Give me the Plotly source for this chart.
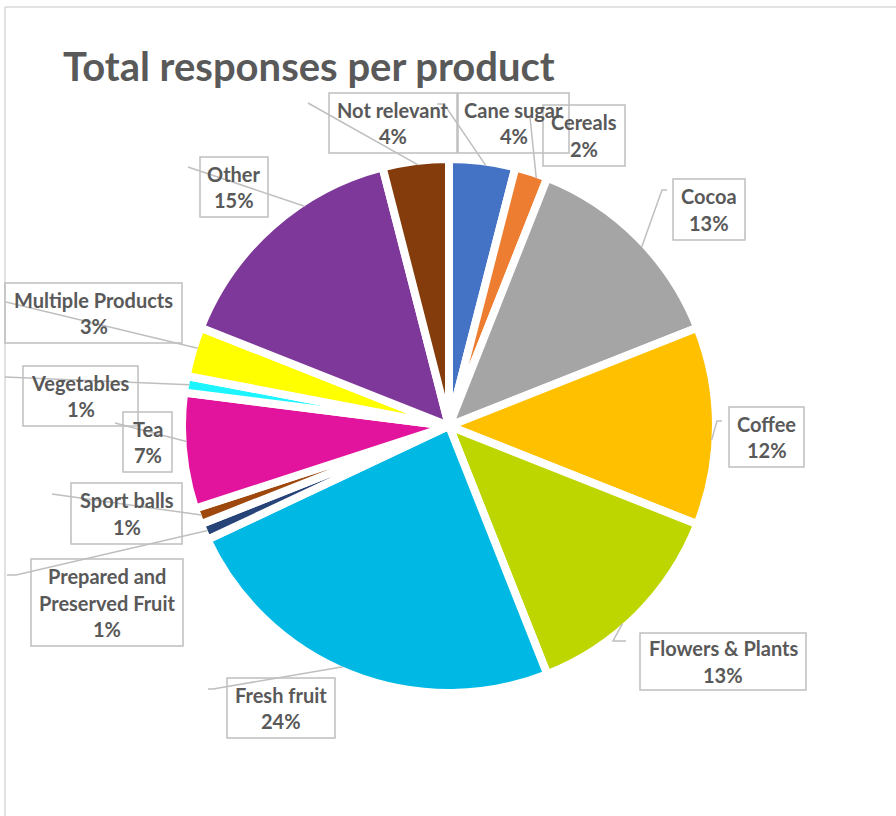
import math
import plotly.graph_objects as go

# ---- data -------------------------------------------------------------
categories = [
    "Cane sugar", "Cereals", "Cocoa", "Coffee", "Flowers & Plants",
    "Fresh fruit", "Prepared and Preserved Fruit", "Sport balls", "Tea",
    "Vegetables", "Multiple Products", "Other", "Not relevant",
]
shares = [4, 2, 13, 12, 13, 24, 1, 1, 7, 1, 3, 15, 4]
colors = [
    "#4472C4", "#ED7D31", "#A5A5A5", "#FFC000", "#BDD600",
    "#00B8E4", "#264478", "#9E480E", "#E2149E", "#1CF5FF",
    "#FFFF00", "#7E3899", "#843C0C",
]
title_text = "Total responses per product"

# ---- geometry (pixels) ------------------------------------------------
W, H = 896, 816
CX, CY, R = 449, 426, 267          # pie centre / outer radius
GAP = 8                             # white separator width
R_VIS = R - GAP / 2
TEXT = "#595959"
GREY = "#BFBFBF"
FONT = "Lato"
FS = 20
LINE_STEP = 26.5

# label box (x0, y0, x1, y1), leader tail points, position of the leader on the slice arc
label_layout = {
    "Not relevant": dict(box=(329, 93, 457, 153), tail=[(308, 103)], frac=0.53),
    "Cane sugar": dict(box=(458, 93, 569, 153), tail=[(437, 104), (444, 104)], frac=0.56),
    "Cereals": dict(box=(543, 105, 625, 166), tail=[(529, 117), (530, 117)], frac=0.69),
    "Cocoa": dict(box=(673, 179, 745, 240), tail=[(667, 190), (662, 190)], frac=0.545),
    "Coffee": dict(box=(729, 407, 804, 467), tail=[(722, 421), (717, 421)], frac=0.57),
    "Flowers & Plants": dict(box=(640, 633, 806, 690), tail=[(626, 641), (613, 641)], frac=0.58),
    "Fresh fruit": dict(box=(227, 678, 335, 738), tail=[(208, 689), (213, 689)], frac=0.525),
    "Prepared and Preserved Fruit": dict(box=(31, 559, 183, 646), tail=[(7, 575), (16, 575)], frac=0.5,
                                         wrap=["Prepared and", "Preserved Fruit"]),
    "Sport balls": dict(box=(71, 483, 182, 544), tail=[(52, 494)], frac=0.5),
    "Tea": dict(box=(123, 412, 172, 472), tail=[(115, 423)], frac=0.58),
    "Vegetables": dict(box=(23, 366, 138, 426), tail=[(5, 377)], frac=0.5),
    "Multiple Products": dict(box=(5, 283, 182, 343), tail=[(6, 302)], frac=0.59),
    "Other": dict(box=(200, 157, 268, 217), tail=[(188, 167)], frac=0.65),
}


def px(x):
    return x / W


def py(y):
    return 1 - y / H


total = sum(shares)
fig = go.Figure()
fig.add_trace(go.Pie(
    labels=categories,
    values=shares,
    sort=False,
    direction="clockwise",
    rotation=0,
    marker=dict(colors=colors, line=dict(color="white", width=GAP)),
    textinfo="none",
    hoverinfo="label+percent",
    showlegend=False,
    domain=dict(x=[px(CX - R), px(CX + R)], y=[py(CY + R), py(CY - R)]),
))

shapes = []
annotations = []

# chart-area frame (top and left edges)
shapes.append(dict(type="line", xref="paper", yref="paper", x0=px(5), y0=py(7), x1=px(W), y1=py(7),
                   line=dict(color="#D9D9D9", width=1.5)))
shapes.append(dict(type="line", xref="paper", yref="paper", x0=px(5), y0=py(7), x1=px(5), y1=py(H),
                   line=dict(color="#D9D9D9", width=1.5)))

cum = 0.0
for name, val in zip(categories, shares):
    spec = label_layout[name]
    a0 = cum / total * 360
    a1 = (cum + val) / total * 360
    cum += val
    ang = math.radians(a0 + spec["frac"] * (a1 - a0))
    rx = CX + R_VIS * math.sin(ang)
    ry = CY - R_VIS * math.cos(ang)

    pts = spec["tail"] + [(rx, ry)]
    path = "M " + " L ".join(f"{px(x):.5f},{py(y):.5f}" for x, y in pts)
    shapes.append(dict(type="path", xref="paper", yref="paper", path=path,
                       line=dict(color=GREY, width=1.5), layer="above"))

    x0, y0, x1, y1 = spec["box"]
    shapes.append(dict(type="rect", xref="paper", yref="paper",
                       x0=px(x0), y0=py(y0), x1=px(x1), y1=py(y1),
                       line=dict(color=GREY, width=1.5), fillcolor="rgba(0,0,0,0)", layer="above"))

    lines = spec.get("wrap", [name]) + [f"{val:.0f}%"]
    xc = (x0 + x1) / 2
    yc = (y0 + y1) / 2
    n = len(lines)
    for k, t in enumerate(lines):
        yk = yc + (k - (n - 1) / 2) * LINE_STEP
        annotations.append(dict(
            text=t, x=px(xc), y=py(yk), xref="paper", yref="paper",
            xanchor="center", yanchor="middle", showarrow=False,
            font=dict(family=FONT, size=FS, color=TEXT, weight="bold"),
        ))

annotations.append(dict(
    text=title_text, x=px(61), y=py(66), xref="paper", yref="paper",
    xanchor="left", yanchor="middle", showarrow=False,
    font=dict(family=FONT, size=40, color=TEXT, weight="bold"),
))

fig.update_layout(
    width=W, height=H,
    margin=dict(l=0, r=0, t=0, b=0),
    paper_bgcolor="white", plot_bgcolor="white",
    shapes=shapes, annotations=annotations,
)

fig.write_html("out.html")
